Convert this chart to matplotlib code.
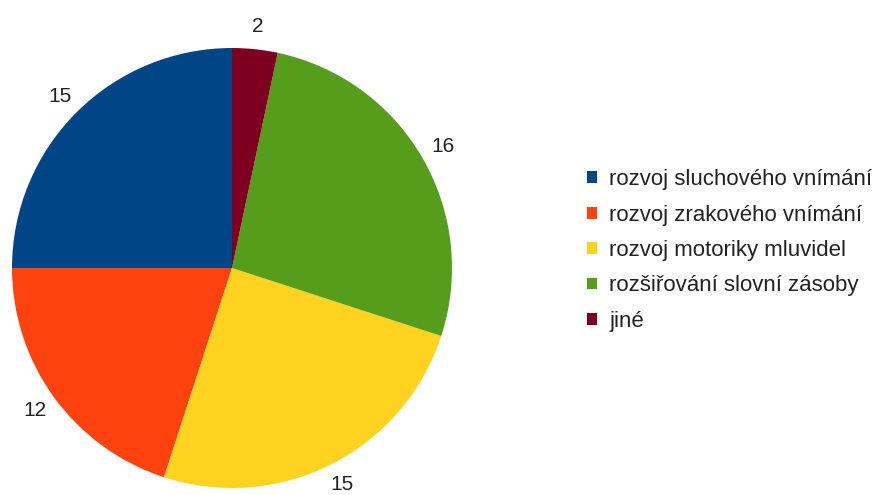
import matplotlib.pyplot as plt
from matplotlib.patches import Patch

plt.rcParams['font.family'] = ['Liberation Sans', 'DejaVu Sans']

categories = ['rozvoj sluchového vnímání', 'rozvoj zrakového vnímání',
              'rozvoj motoriky mluvidel', 'rozšiřování slovní zásoby', 'jiné']
counts = [15, 12, 15, 16, 2]
colors = ['#004586', '#ff420e', '#ffd320', '#579d1c', '#7e0021']

fig = plt.figure(figsize=(8.74, 4.95), dpi=100)
# pie area: 440 px square, centre at (232, 268) from top-left
ax = fig.add_axes([12 / 874, 7 / 495, 440 / 874, 440 / 495])

wedges, texts = ax.pie(counts, colors=colors, startangle=90, counterclock=True,
                       radius=1.0, labels=[str(c) for c in counts],
                       labeldistance=1.105, textprops={'fontsize': 15, 'color': '#222222'})
for t in texts:
    t.set_ha('center')
    t.set_va('center')
ax.set_xlim(-1, 1)
ax.set_ylim(-1, 1)
ax.set_aspect('equal')

handles = [Patch(facecolor=c, edgecolor='none') for c in colors]
fig.legend(handles, categories, loc='upper left', bbox_to_anchor=(576 / 874, 1 - 158 / 495),
           frameon=False, fontsize=16, handlelength=0.45, handleheight=0.45,
           handletextpad=0.55, labelspacing=0.65, borderpad=0, labelcolor='#222222')

fig.savefig('out.png', dpi=100)
